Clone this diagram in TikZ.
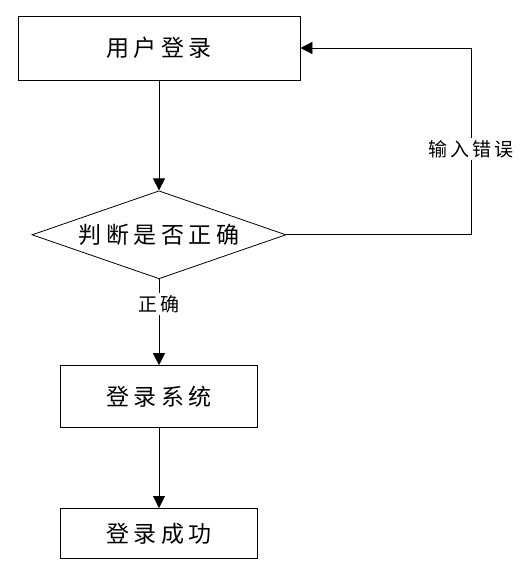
\documentclass[tikz,border=0pt]{standalone}
\usepackage{fontspec}
\newfontfamily\cjk[LetterSpace=20]{Noto Sans CJK SC}
\newfontfamily\cjklbl[LetterSpace=16]{Noto Sans CJK SC}
\usetikzlibrary{arrows.meta, positioning, shapes.geometric}

\begin{document}
\begin{tikzpicture}[x=1pt, y=1pt,
  box/.style={draw, line width=0.8pt, inner sep=0pt, align=center,
              font=\cjk\fontsize{23}{27}\selectfont},
  decision/.style={box, diamond, aspect=2.886, minimum width=254pt, minimum height=88pt},
  lbl/.style={fill=white, inner sep=2pt, font=\cjklbl\fontsize{19}{22}\selectfont},
  arr/.style={-{Triangle[length=12pt, width=12pt]}, line width=0.8pt},
  node distance=110pt
]
\useasboundingbox (0,0) rectangle (525,-567);

\node[box, minimum width=282pt, minimum height=64pt] (login) at (159,-48) {用户登录};
\node[decision, below=110pt of login] (judge) {判断是否正确};
\node[box, below=86pt of judge, minimum width=197pt, minimum height=62pt] (system) {登录系统};
\node[box, below=80pt of system, minimum width=197pt, minimum height=50pt] (success) {登录成功};
\coordinate[right=185pt of judge.east] (back);

\draw[arr] (login) -- (judge);
\draw[arr] (judge) -- node[lbl, pos=0.29] {正确} (system);
\draw[arr] (system) -- (success);
\draw[arr] (judge.east) -- (back) |- node[lbl, pos=0.23] {输入错误} (login.east);
\end{tikzpicture}
\end{document}
